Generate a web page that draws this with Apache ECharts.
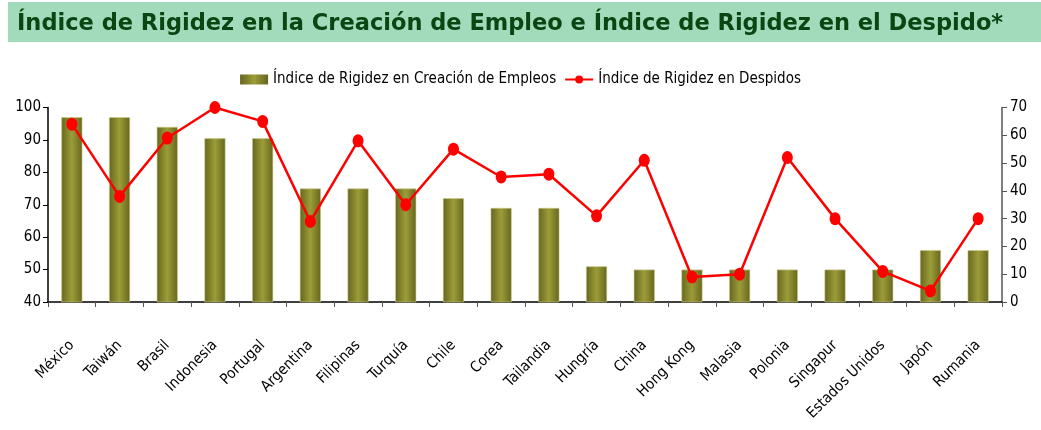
<!DOCTYPE html>
<html>
<head>
<meta charset="utf-8">
<script src="https://cdn.jsdelivr.net/npm/echarts@6/dist/echarts.min.js"></script>
<style>
  html, body { margin: 0; padding: 0; background: #fff; }
  #main { width: 1041px; height: 430px; }
</style>
</head>
<body>
<div id="main"></div>
<script>
// datos
var paises = ['México', 'Taiwán', 'Brasil', 'Indonesia', 'Portugal', 'Argentina', 'Filipinas', 'Turquía', 'Chile', 'Corea',
  'Tailandia', 'Hungría', 'China', 'Hong Kong', 'Malasia', 'Polonia', 'Singapur', 'Estados Unidos', 'Japón', 'Rumania'];
var creacionEmpleo = [97, 97, 94, 90.5, 90.5, 75, 75, 75, 72, 69, 69, 51, 50, 50, 50, 50, 50, 50, 56, 56];
var despidos = [64, 38, 59, 70, 65, 29, 58, 35, 55, 45, 46, 31, 51, 9, 10, 52, 30, 11, 4, 30];
var ticksIzq = [40, 100, 10];
var ticksDer = [0, 70, 10];

var fuente = '"DejaVu Sans Condensed", "DejaVu Sans"';

var barColor = new echarts.graphic.LinearGradient(0, 0, 1, 0, [
  { offset: 0, color: '#66661f' },
  { offset: 0.5, color: '#9c9c38' },
  { offset: 1, color: '#66661f' }
]);

var myChart = echarts.init(document.getElementById('main'));
myChart.setOption({
  animation: false,
  graphic: [{
    type: 'rect',
    shape: { x: 8, y: 2, width: 1033, height: 40 },
    style: { fill: '#a2dbbc' },
    z: -1
  }],
  title: {
    text: 'Índice de Rigidez en la Creación de Empleo e Índice de Rigidez en el Despido*',
    left: 12,
    top: 8,
    textStyle: { fontFamily: 'DejaVu Sans', fontWeight: 'bold', fontSize: 22.5, color: '#0a4512' }
  },
  legend: {
    top: 67,
    left: 'center',
    itemGap: 8,
    textStyle: { fontFamily: fuente, fontSize: 15, color: '#000' },
    data: [
      { name: 'Índice de Rigidez en Creación de Empleos', icon: 'rect', itemStyle: { color: barColor, borderWidth: 0 } },
      { name: 'Índice de Rigidez en Despidos' }
    ],
    itemWidth: 28,
    itemHeight: 10
  },
  grid: { left: 48, right: 39, top: 107.5, bottom: 128 },
  xAxis: {
    type: 'category',
    data: paises,
    axisLine: { lineStyle: { color: '#000', width: 1.5 } },
    axisTick: { show: true, length: 5, lineStyle: { color: '#555' } },
    axisLabel: { interval: 0, rotate: 45, margin: 41, fontFamily: fuente, fontSize: 15, color: '#000' }
  },
  yAxis: [{
    type: 'value',
    min: ticksIzq[0], max: ticksIzq[1], interval: ticksIzq[2],
    splitLine: { show: false },
    axisLine: { show: true, lineStyle: { color: '#000', width: 1.5 } },
    axisTick: { show: true, length: 5, lineStyle: { color: '#000' } },
    axisLabel: { margin: 7, fontFamily: fuente, fontSize: 15, color: '#000' }
  }, {
    type: 'value',
    min: ticksDer[0], max: ticksDer[1], interval: ticksDer[2],
    splitLine: { show: false },
    axisLine: { show: true, lineStyle: { color: '#555', width: 1.5 } },
    axisTick: { show: true, length: 5, lineStyle: { color: '#555' } },
    axisLabel: { margin: 8, fontFamily: fuente, fontSize: 15, color: '#000' }
  }],
  series: [{
    name: 'Índice de Rigidez en Creación de Empleos',
    type: 'bar',
    yAxisIndex: 0,
    data: creacionEmpleo,
    barWidth: 21,
    itemStyle: { color: barColor, borderColor: '#c9c98a', borderWidth: 0.6 }
  }, {
    name: 'Índice de Rigidez en Despidos',
    type: 'line',
    yAxisIndex: 1,
    data: despidos,
    symbol: 'circle',
    symbolSize: [11, 13],
    lineStyle: { color: '#ff0000', width: 2.5 },
    itemStyle: { color: '#ff0000' },
    z: 5
  }]
});
</script>
</body>
</html>
